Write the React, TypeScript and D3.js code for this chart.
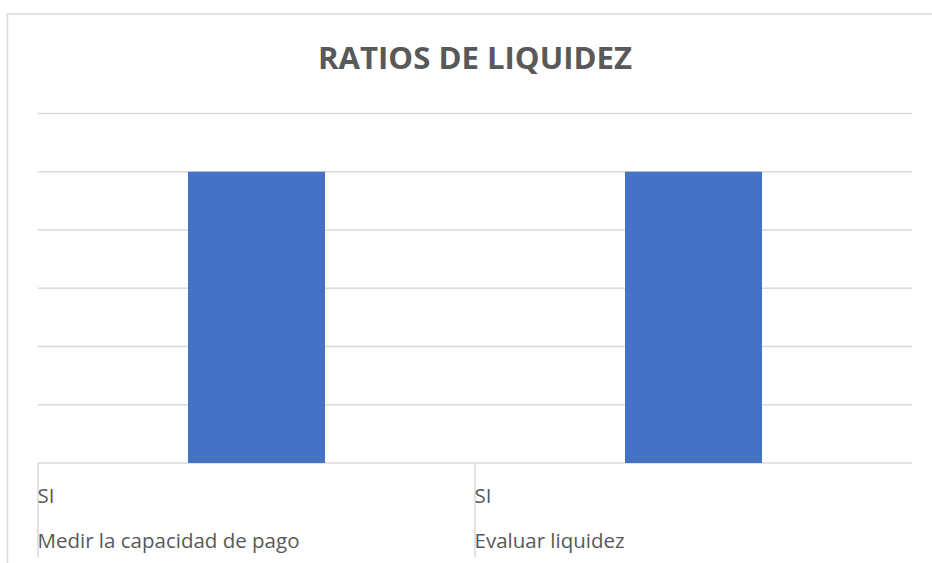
import React from "react"
import * as d3 from "d3"

// data
const groups = ["Medir la capacidad de pago", "Evaluar liquidez"]
const subLabels = ["SI", "SI"]
const values = [5, 5]
const yMax = 6
const yTicks = [0, 1, 2, 3, 4, 5, 6]
const title = "RATIOS DE LIQUIDEZ"

const W = 932, H = 563

const App = () => {
    const margin = {top: 113.5, right: 20, bottom: 100, left: 38}
    const plotRight = 912, plotBottom = 463

    const x = d3.scaleBand<string>()
        .domain(groups)
        .range([margin.left, plotRight])
        .paddingInner(0.6865)
        .paddingOuter(0.6865 / 2)

    // plain band for the category cells (dividers + labels)
    const cell = d3.scaleBand<string>()
        .domain(groups)
        .range([margin.left, plotRight])

    const y = d3.scaleLinear()
        .domain([0, yMax])
        .range([plotBottom, margin.top])

    const font = "'Open Sans', 'Liberation Sans', sans-serif"
    const gray = "#595959"

    return (
        <svg width={W} height={H} style={{position: "absolute", left: 0, top: 0}}>
            <rect x={0} y={0} width={W} height={H} fill="#fff" />
            {/* chart area border, runs off right and bottom */}
            <rect x={7.5} y={14} width={W + 20} height={H + 20} fill="none" stroke="#d9d9d9" strokeWidth={1.5} />

            <text x={475} y={69} textAnchor="middle" fontFamily={font} fontWeight="bold"
                fontSize={29.5} fill={gray} textLength={314} lengthAdjust="spacingAndGlyphs">
                {title}
            </text>

            {yTicks.map(t => (
                <line key={t} x1={margin.left} x2={plotRight} y1={y(t)} y2={y(t)}
                    stroke="#d9d9d9" strokeWidth={1.5} />
            ))}

            {groups.map((g, i) => (
                <rect key={g} x={x(g)} y={y(values[i])} width={x.bandwidth()}
                    height={plotBottom - y(values[i])} fill="#4472c4" />
            ))}

            {/* multi-level category axis */}
            {groups.map(g => (
                <line key={"d" + g} x1={cell(g)} x2={cell(g)} y1={plotBottom} y2={557}
                    stroke="#d9d9d9" strokeWidth={1.5} />
            ))}
            {groups.map((g, i) => (
                <g key={"l" + g} fontFamily={font} fill={gray} fontSize={20.5}>
                    <text x={(cell(g) as number) - 0.5} y={503}>{subLabels[i]}</text>
                    <text x={(cell(g) as number) - 0.5} y={548}>{g}</text>
                </g>
            ))}
        </svg>
    )
}

export default App
